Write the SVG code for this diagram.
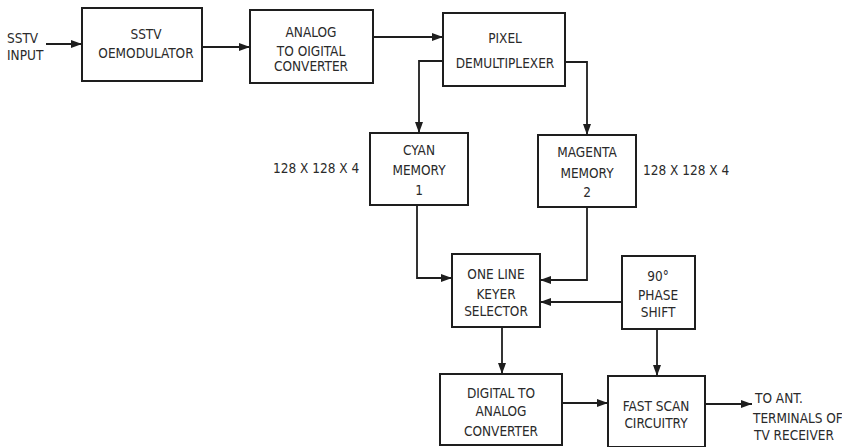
<svg xmlns="http://www.w3.org/2000/svg" width="842" height="447" viewBox="0 0 842 447">
<style>
.box{fill:#fff;stroke:#1e1e1e;stroke-width:2}
.ln{fill:none;stroke:#1e1e1e;stroke-width:1.8}
text{font-family:"DejaVu Sans Condensed","Liberation Sans",sans-serif;font-size:13.5px;fill:#2a2a2a}
.c{text-anchor:middle}
</style>
<defs>
<marker id="ah" markerUnits="userSpaceOnUse" markerWidth="12" markerHeight="10" refX="11" refY="4" orient="auto">
<path d="M0,0 L11,4 L0,8 Z" fill="#1e1e1e"/>
</marker>
</defs>
<rect width="842" height="447" fill="#fff"/>
<g id="input-label"><text x="7" y="43">SSTV</text><text x="7" y="60">INPUT</text></g>
<g id="demod"><rect class="box" x="82" y="8" width="120" height="73"/><text class="c" x="146" y="39">SSTV</text><text class="c" x="146" y="58">OEMODULATOR</text></g>
<g id="adc"><rect class="box" x="250" y="10" width="123" height="73"/><text class="c" x="311" y="37">ANALOG</text><text class="c" x="311" y="56">TO OIGITAL</text><text class="c" x="311" y="71">CONVERTER</text></g>
<g id="demux"><rect class="box" x="443" y="13" width="122" height="73"/><text class="c" x="505" y="43">PIXEL</text><text class="c" x="505" y="68">DEMULTIPLEXER</text></g>
<g id="cyan"><rect class="box" x="370" y="133" width="98" height="72"/><text class="c" x="419" y="155">CYAN</text><text class="c" x="419" y="175">MEMORY</text><text class="c" x="419" y="195">1</text></g>
<g id="cyan-size"><text x="273" y="173">128 X 128 X 4</text></g>
<g id="magenta"><rect class="box" x="538" y="135" width="98" height="72"/><text class="c" x="587" y="157">MAGENTA</text><text class="c" x="587" y="178">MEMORY</text><text class="c" x="587" y="197">2</text></g>
<g id="magenta-size"><text x="643" y="175">128 X 128 X 4</text></g>
<g id="keyer"><rect class="box" x="452" y="254" width="88" height="73"/><text class="c" x="496" y="279">ONE LINE</text><text class="c" x="496" y="299">KEYER</text><text class="c" x="496" y="316">SELECTOR</text></g>
<g id="phase"><rect class="box" x="622" y="256" width="73" height="73"/><text class="c" x="658" y="281">90°</text><text class="c" x="658" y="300">PHASE</text><text class="c" x="658" y="317">SHIFT</text></g>
<g id="dac"><rect class="box" x="440" y="374" width="122" height="71"/><text class="c" x="501" y="398">DIGITAL TO</text><text class="c" x="501" y="416">ANALOG</text><text class="c" x="501" y="436">CONVERTER</text></g>
<g id="fastscan"><rect class="box" x="608" y="376" width="97" height="71"/><text class="c" x="656" y="411">FAST SCAN</text><text class="c" x="656" y="428">CIRCUITRY</text></g>
<g id="output-label"><text x="755" y="403">TO ANT.</text><text x="753" y="423">TERMINALS OF</text><text x="754" y="440">TV RECEIVER</text></g>
<g id="connectors">
<path class="ln" marker-end="url(#ah)" d="M46,44 H82"/>
<path class="ln" marker-end="url(#ah)" d="M202,47 H250"/>
<path class="ln" marker-end="url(#ah)" d="M373,37 H443"/>
<path class="ln" marker-end="url(#ah)" d="M443,61 H419 V133"/>
<path class="ln" marker-end="url(#ah)" d="M565,62 H587 V135"/>
<path class="ln" marker-end="url(#ah)" d="M417,205 V278 H452"/>
<path class="ln" marker-end="url(#ah)" d="M587,207 V280 H540"/>
<path class="ln" marker-end="url(#ah)" d="M622,302 H540"/>
<path class="ln" marker-end="url(#ah)" d="M502,327 V374"/>
<path class="ln" marker-end="url(#ah)" d="M657,329 V376"/>
<path class="ln" marker-end="url(#ah)" d="M562,403 H608"/>
<path class="ln" marker-end="url(#ah)" d="M705,404 H752"/>
</g>
</svg>
